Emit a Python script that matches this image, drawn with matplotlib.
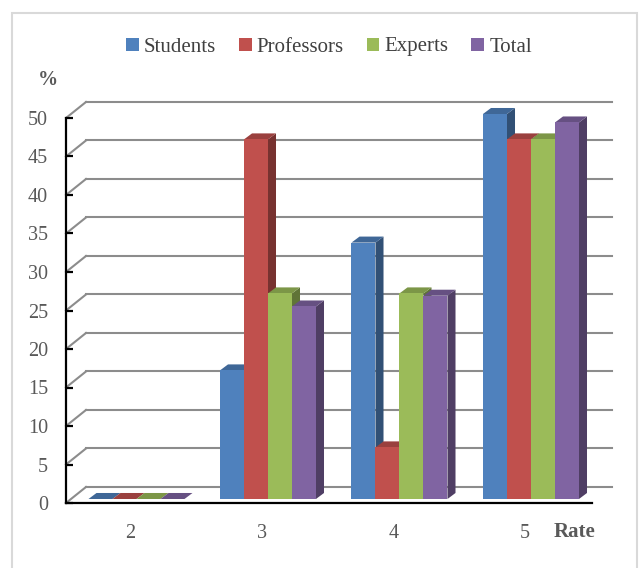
import numpy as np
import matplotlib.pyplot as plt
from matplotlib.patches import Patch, Polygon, Rectangle
from matplotlib.colors import to_rgb

plt.rcParams["font.family"] = ["Liberation Serif", "DejaVu Serif"]

rates = ["2", "3", "4", "5"]
groups = ["Students", "Professors", "Experts", "Total"]
students = [0, 16.7, 33.3, 50.0]
professors = [0, 46.7, 6.7, 46.7]
experts = [0, 26.7, 26.7, 46.7]
total = [0, 25.0, 26.4, 48.9]
series = [students, professors, experts, total]
colors = ["#4F81BD", "#C0504D", "#9BBB59", "#8064A2"]

# pseudo-3D geometry (data units of the front plane)
WALL_DX, WALL_DY = 0.152, 2.08
BAR_DX, BAR_DY = 0.061, 0.78
BAR_BASE = 0.52
BAR_W = 0.1825


def shade(c, f):
    r, g, b = to_rgb(c)
    return (r * f, g * f, b * f)


fig = plt.figure(figsize=(6.4, 5.68), dpi=100)
fig.patches.append(Rectangle((12 / 640, -0.1), 625 / 640, 1.1 - 13 / 568,
                             transform=fig.transFigure, fill=False,
                             edgecolor="#d9d9d9", lw=1.5))

ax = fig.add_axes([66 / 640, 65 / 568, 526 / 640, 385 / 568])
x0, x1 = -0.536, 3.464
ax.set_xlim(x0, x1)
ax.set_ylim(0, 50)
ax.patch.set_alpha(0)

# back wall grid with the diagonal floor/side edges
for v in range(0, 55, 5):
    ax.plot([x0 + WALL_DX, x1 + WALL_DX], [v + WALL_DY, v + WALL_DY],
            color="#8c8c8c", lw=1.5, clip_on=False, zorder=1)
    ax.plot([x0, x0 + WALL_DX], [v, v + WALL_DY],
            color="#8c8c8c", lw=1.5, clip_on=False, zorder=1)

# bars: front, top, side faces; drawn left to right so neighbours overlap correctly
z = 2
for g in range(len(rates)):
    left0 = g - 2 * BAR_W
    for i, vals in enumerate(series):
        h = vals[g]
        l = left0 + i * BAR_W
        r = l + BAR_W
        b = BAR_BASE
        t = BAR_BASE + h
        c = colors[i]
        side = Polygon([(r, b), (r + BAR_DX, b + BAR_DY), (r + BAR_DX, t + BAR_DY), (r, t)],
                       closed=True, facecolor=shade(c, 0.62), edgecolor="none",
                       clip_on=False, zorder=z)
        top = Polygon([(l, t), (r, t), (r + BAR_DX, t + BAR_DY), (l + BAR_DX, t + BAR_DY)],
                      closed=True, facecolor=shade(c, 0.8), edgecolor="none",
                      clip_on=False, zorder=z)
        front = Polygon([(l, b), (r, b), (r, t), (l, t)], closed=True,
                        facecolor=c, edgecolor="none", clip_on=False, zorder=z)
        for p in (side, top, front):
            ax.add_patch(p)
        z += 1

for s in ("top", "right"):
    ax.spines[s].set_visible(False)
for s in ("left", "bottom"):
    ax.spines[s].set_color("black")
    ax.spines[s].set_linewidth(1.6)
    ax.spines[s].set_zorder(50)

ax.set_yticks(range(0, 55, 5))
ax.tick_params(axis="y", direction="in", length=5, width=1.6, color="black",
               labelsize=14.5, labelcolor="#595959", pad=13)
ax.set_xticks(np.arange(len(rates)) - 0.046)
ax.set_xticklabels(rates)
ax.tick_params(axis="x", length=0, labelsize=14.5, labelcolor="#595959", pad=15)

fig.text(48 / 640, 1 - 80 / 568, "%", fontsize=14.5, fontweight="bold",
         color="#595959", ha="center", va="center")
fig.text(575 / 640, 1 - 532 / 568, "Rate", fontsize=15, fontweight="bold",
         color="#595959", ha="center", va="center")

handles = [Patch(facecolor=c, edgecolor="none") for c in colors]
fig.legend(handles, groups, loc="center", bbox_to_anchor=(329 / 640, 1 - 47 / 568),
           ncol=4, frameon=False, fontsize=15, labelcolor="#404040",
           handlelength=0.6, handleheight=0.6, handletextpad=0.25, columnspacing=1.1)

fig.savefig("out.png", dpi=100)
